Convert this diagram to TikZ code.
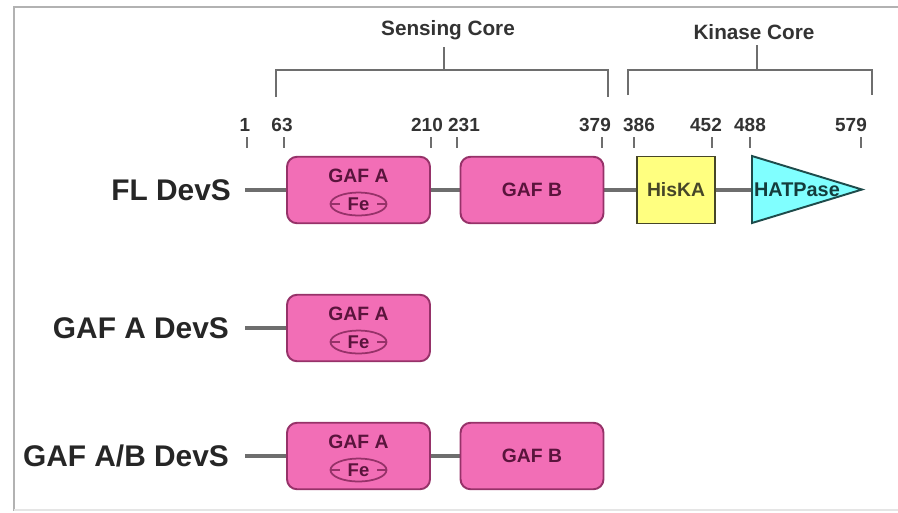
\documentclass[tikz,border=0pt]{standalone}
\usepackage{fontspec}
\setmainfont{Liberation Sans}
\usepackage{xcolor}
\usetikzlibrary{shapes.geometric,positioning,backgrounds}
\definecolor{gafpink}{RGB}{242,110,182}
\definecolor{gafedge}{RGB}{150,50,105}
\definecolor{gaftext}{RGB}{90,20,60}
\definecolor{hisyel}{RGB}{255,255,128}
\definecolor{hisedge}{RGB}{70,70,40}
\definecolor{hatcyan}{RGB}{128,255,255}
\definecolor{hatedge}{RGB}{30,75,75}
\definecolor{hattext}{RGB}{20,60,60}
\definecolor{linegray}{RGB}{110,110,110}

\begin{document}
\begin{tikzpicture}[
  x=0.02cm, y=-0.02cm,
  every node/.style={inner sep=1pt},
  rowlab/.style={anchor=east, font=\fontsize{17}{20}\selectfont\bfseries, text=black!85},
  head/.style={font=\fontsize{11.8}{14}\selectfont\bfseries, text=black!80},
  numtxt/.style={font=\fontsize{10.8}{12}\selectfont\bfseries, text=black!80},
  gaf/.style={rectangle, rounded corners=0.2cm, draw=gafedge, fill=gafpink,
    line width=1.1pt, minimum width=2.86cm, minimum height=1.33cm},
  gaftxt/.style={font=\fontsize{11}{12}\selectfont\bfseries, text=gaftext},
  feoval/.style={ellipse, draw=gafedge, line width=1pt, minimum width=1.12cm,
    minimum height=0.46cm, inner sep=0pt, font=\fontsize{10.5}{11}\selectfont\bfseries, text=gaftext},
  his/.style={rectangle, draw=hisedge, fill=hisyel, line width=1.1pt,
    minimum width=1.56cm, minimum height=1.34cm, font=\fontsize{11}{12}\selectfont\bfseries, text=hisedge},
  backbone/.style={draw=linegray, line width=2.2pt},
  brk/.style={draw=linegray, line width=0.9pt},
  tick/.style={draw=linegray, line width=0.8pt}
]
\useasboundingbox (0,0) rectangle (898,512);

% frame
\draw[gray!60, line width=1.6pt] (898,7) -- (14,7) -- (14,511);
\draw[gray!20, line width=1pt] (14,510) -- (898,510);

% core brackets
\node[head] (sens) at (448,30) {Sensing Core};
\node[head] (kin) at (754,32) {Kinase Core};
\draw[brk] (276,97) |- (608,70) -- (608,97);
\draw[brk] (444,70) -- (444,47);
\draw[brk] (628,95) |- (872,70) -- (872,95);
\draw[brk] (757,70) -- (757,45);

% residue numbers
\foreach \tx/\lx/\num in {247/245/1, 284/282/63, 431/427/210, 457/464/231,
    602/595/379, 634/639/386, 712/706/452, 750/750/488, 861/851/579} {
  \node[numtxt] (n\num) at (\lx,125) {\num};
  \draw[tick] (\tx,137) -- (\tx,148);
}

% GAF A domains
\foreach \y/\r in {190/1, 328/2, 456/3} {
  \node[gaf] (gafa\r) at (358.5,\y) {};
  \node[gaftxt] (gafat\r) at (358.5,\y-14) {GAF A};
  \node[feoval] (fe\r) at (358.5,\y+14) {Fe};
  \draw[gafedge, line width=0.9pt] (fe\r.west) -- ++(10,0);
  \draw[gafedge, line width=0.9pt] (fe\r.east) -- ++(-10,0);
}

\node[gaf, gaftxt] (gafb1) at (532,190) {GAF B};
\node[gaf, gaftxt] (gafb3) at (532,456) {GAF B};
\node[his] (hiska) at (676,190) {HisKA};
\draw[fill=hatcyan, draw=hatedge, line width=1.1pt]
  (752,156) coordinate (hattop) -- (862,189.5) coordinate (hattip)
  -- (752,223) coordinate (hatbot) -- cycle;
\coordinate (hatbase) at (752,190);
\node[anchor=west, font=\fontsize{11.3}{12}\selectfont\bfseries, text=hattext] (hatp) at (752,190) {HATPase};

% constructs
\node[rowlab] (fl) at (233,190) {FL DevS};
\node[rowlab] (gafadevs) at (231,328) {GAF A DevS};
\node[rowlab] (gafabdevs) at (231,456) {GAF A/B DevS};
\coordinate (flstart) at (245,190);
\coordinate (astart) at (245,328);
\coordinate (abstart) at (245,456);

\begin{scope}[on background layer]
\draw[backbone] (flstart) -- (gafa1) -- (gafb1) -- (hiska) -- (hatbase);
\draw[backbone] (astart) -- (gafa2);
\draw[backbone] (abstart) -- (gafa3) -- (gafb3);
\end{scope}
\end{tikzpicture}
\end{document}
